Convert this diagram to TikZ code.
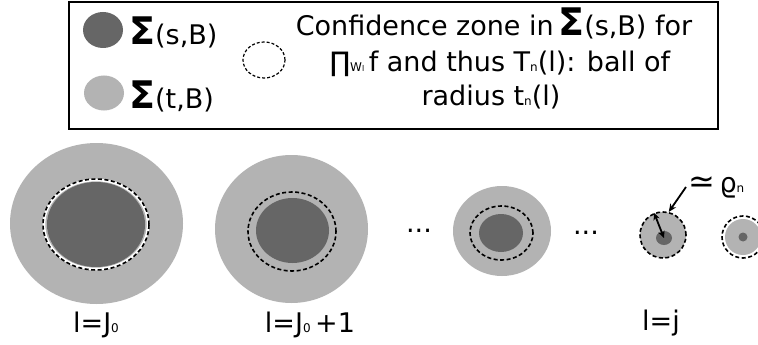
\documentclass[tikz,border=0pt]{standalone}
\usepackage{fontspec}
\setmainfont{DejaVu Sans}
\usetikzlibrary{shapes.geometric,arrows.meta}
\definecolor{darkg}{HTML}{666666}
\definecolor{lightg}{HTML}{B3B3B3}
\newcommand{\bigSig}{{\fontsize{38}{38}\selectfont\bfseries Σ}}
\newcommand{\subtxt}[1]{{\fontsize{12}{12}\selectfont #1}}
\newcommand{\subsub}[1]{{\fontsize{8}{8}\selectfont #1}}
\begin{document}
\begin{tikzpicture}[x=1pt,y=-1pt,
  ell/.style={ellipse, inner sep=0pt, draw=none},
  darkblob/.style={ell, fill=darkg},
  lightblob/.style={ell, fill=lightg},
  zone/.style={ell, draw=black, dash pattern=on 4pt off 2.5pt, line width=1.6pt},
  whitering/.style={ell, draw=white, line width=2.6pt},
  legzone/.style={ell, draw=black, dash pattern=on 3pt off 2pt, line width=1.2pt},
  txt/.style={inner sep=0pt, font=\fontsize{27}{34}\selectfont},
  arr/.style={line width=1.8pt, -{Stealth[length=8pt,width=7pt]}},
  darr/.style={line width=1.8pt, {Stealth[length=7pt,width=6.5pt]}-{Stealth[length=7pt,width=6.5pt]}}
]
\useasboundingbox (0,0) rectangle (758,345);
\fill[white] (0,0) rectangle (758,345);

% legend box
\node[draw=black, line width=1.6pt, inner sep=0pt, minimum width=649pt, minimum height=127pt] (legend) at (393.5,65.5) {};
\node[darkblob, minimum width=40pt, minimum height=36pt] (legS) at (103,30) {};
\node[lightblob, minimum width=40pt, minimum height=35pt] (legT) at (104,93) {};
\node[txt, anchor=base west] (legStxt) at (129,45) {\bigSig(s,B)};
\node[txt, anchor=base west] (legTtxt) at (129,108) {\bigSig(t,B)};
\node[legzone, minimum width=42pt, minimum height=36pt] (legZ) at (264,60) {};
\node[txt, anchor=base] (conf1) at (494,36) {Confidence zone in\,\bigSig(s,B) for};
\node[txt, anchor=base] (conf2) at (500,71) {∏\subtxt{W\subsub{l}}\,f and thus T\subtxt{n}(l): ball of};
\node[txt, anchor=base] (conf3) at (491,105) {radius t\subtxt{n}(l)};

% level J0
\node[lightblob, minimum width=173pt, minimum height=161pt] (c1l) at (96.5,223.5) {};
\node[darkblob, minimum width=98pt, minimum height=85pt] (c1d) at (96,224.5) {};
\node[whitering, minimum width=104pt, minimum height=89pt] (c1w) at (96,224.5) {};
\node[zone, minimum width=106pt, minimum height=91pt] (c1z) at (96,224.5) {};
\node[txt, anchor=base] (lab1) at (96,332) {l=J\subtxt{0}};

% level J0+1
\node[lightblob, minimum width=153pt, minimum height=148pt] (c2l) at (291.5,229) {};
\node[darkblob, minimum width=73pt, minimum height=65pt] (c2d) at (292.5,230.5) {};
\node[zone, minimum width=88pt, minimum height=79pt] (c2z) at (292,231.5) {};
\node[txt, anchor=base] (lab2) at (310,332) {l=J\subtxt{0}\,+1};

\node[txt, anchor=base] (dots1) at (419,232) {...};

% intermediate level
\node[lightblob, minimum width=98pt, minimum height=90pt] (c3l) at (502,231) {};
\node[darkblob, minimum width=44pt, minimum height=38pt] (c3d) at (501,233) {};
\node[zone, minimum width=63pt, minimum height=54pt] (c3z) at (501.5,233) {};

\node[txt, anchor=base] (dots2) at (586,234) {...};

% level j
\node[lightblob, zone, fill=lightg, minimum width=46pt, minimum height=46pt] (c4l) at (663,235) {};
\node[darkblob, minimum width=16pt, minimum height=14pt] (c4d) at (664,238) {};
\node[txt, anchor=base] (lab4) at (661,330) {l=j};
\node[txt, anchor=base west] (rho) at (688,192) {{\fontsize{32}{32}\selectfont ≃}\,ϱ\subtxt{n}};
\coordinate (rhotail) at (686,187);
\draw[arr] (rhotail) -- (c4l.76);
\draw[darr] (c4l.112) -- (c4d.center);

% last ball
\node[whitering, minimum width=42pt, minimum height=42pt] (c5w) at (743,237) {};
\node[zone, minimum width=42pt, minimum height=42pt] (c5z) at (743,237) {};
\node[lightblob, minimum width=36pt, minimum height=36pt] (c5l) at (743,237) {};
\node[darkblob, minimum width=9pt, minimum height=9pt] (c5d) at (743,237) {};
\end{tikzpicture}
\end{document}
